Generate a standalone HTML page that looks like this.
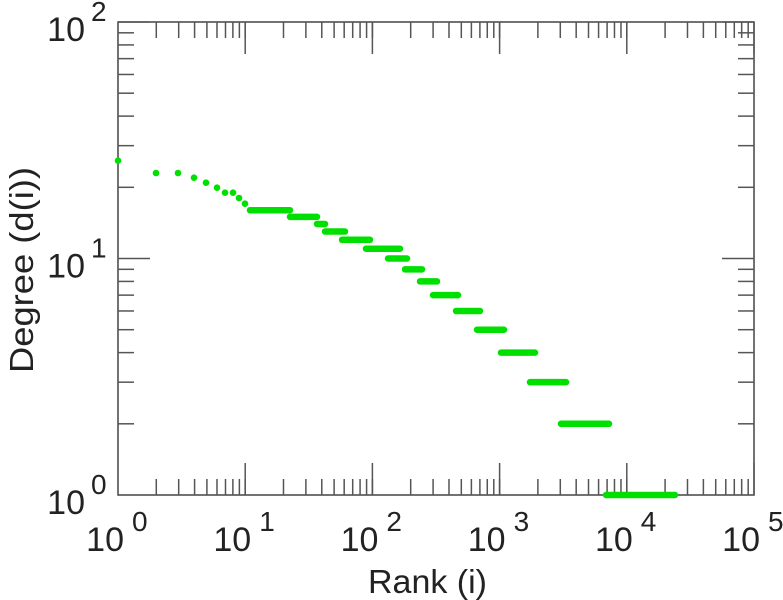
<!DOCTYPE html>
<html><head><style>
html,body{margin:0;padding:0;background:#fff;}
svg{display:block;font-family:"Liberation Sans",sans-serif;}
</style></head><body>
<svg id="s" width="783" height="600" xmlns="http://www.w3.org/2000/svg">
<rect x="118" y="22" width="636" height="473" fill="none" stroke="#444" stroke-width="1.5"/>
<g id="t" stroke="#555" stroke-width="1.5"></g>
<g id="d" fill="#00e000" stroke="#00e000"></g>
<g id="l" fill="#222" font-size="34"></g>
<text x="368" y="593" font-size="33" fill="#222" textLength="119" lengthAdjust="spacingAndGlyphs">Rank (i)</text>
<text transform="translate(33,373) rotate(-90)" font-size="33" fill="#222" textLength="206" lengthAdjust="spacingAndGlyphs">Degree (d(i))</text>
</svg>
<script>
var L=118,R=754,T=22,B=495,DX=127.2,DY=236.5,ns="http://www.w3.org/2000/svg";
function el(p,n,a){var e=document.createElementNS(ns,n);for(var k in a)e.setAttribute(k,a[k]);document.getElementById(p).appendChild(e);return e;}
function ln(x1,y1,x2,y2){el('t','line',{x1:x1,y1:y1,x2:x2,y2:y2});}
for(var d=0;d<5;d++)for(var m=1;m<=10;m++){if(d==0&&m==1)continue;var x=L+DX*(d+Math.log10(m));var len=m==10?32:16;ln(x,B,x,B-len);ln(x,T,x,T+len);}
for(var d=0;d<2;d++)for(var m=2;m<=10;m++){var y=B-DY*(d+Math.log10(m));var len=m==10?32:16;ln(L,y,L+len,y);ln(R,y,R-len,y);}
for(var d=0;d<=5;d++){var x=L+DX*d;var t=el('l','text',{x:x+6,y:551,'text-anchor':'end'});t.textContent='10';var s=el('l','text',{x:x+14,y:531,'font-size':28});s.textContent=d;}
for(var d=0;d<=2;d++){var y=B-DY*d;var t=el('l','text',{x:85,y:y+19,'text-anchor':'end'});t.textContent='10';var s=el('l','text',{x:91,y:y-1,'font-size':28});s.textContent=d;}
var pts=[[118,160.7],[156,173],[178,173],[194,177.7],[206,182.7],[217,187.7],[225,192.7],[233,192.7],[239,198],[245,203.7]];
pts.forEach(function(p){el('d','circle',{cx:p[0],cy:p[1],r:3.3,stroke:'none'});});
var bars=[[16,250,290],[15,290,317],[14,317,325],[13,325,345],[12,342,370],[11,366,400],[10,388,407],[9,405,422],[8,420,437],[7,433,458],[6,456,480],[5,477,504],[4,501,535],[3,530,566],[2,561,609],[1,606,675]];
bars.forEach(function(b){var y=B-DY*Math.log10(b[0]);el('d','line',{x1:b[1],y1:y,x2:b[2],y2:y,'stroke-width':6.5,'stroke-linecap':'round'});});
</script>
</body></html>
